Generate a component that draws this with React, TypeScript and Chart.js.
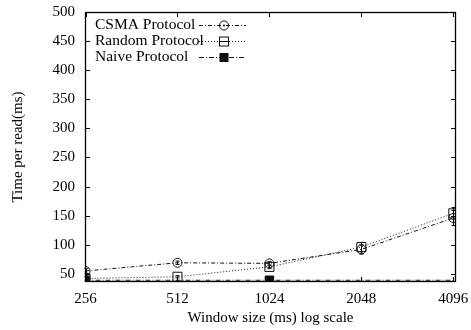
import React, { useEffect, useRef } from "react";
import { Chart, registerables } from "chart.js";

Chart.register(...registerables);

// Window sizes (ms), plotted on a log2 axis
const windowSizes = [256, 512, 1024, 2048, 4096];
const yTickValues = [50, 100, 150, 200, 250, 300, 350, 400, 450, 500];

// Mean time per read (ms) and error half-widths
const csmaTimes = [55, 69, 68, 92, 146];
const csmaErrors = [4, 3, 3, 8, 13];
const randomTimes = [42, 45, 62, 96, 154];
const randomErrors = [3, 2, 3, 8, 10];
const naiveTimes = [39, 39, 39, 39, 39];

const SERIF = "'Liberation Serif', 'Times New Roman', serif";
const INK = "#111";

const seriesNames = ["CSMA Protocol", "Random Protocol", "Naive Protocol"];
const seriesDash = [[4, 2, 1, 2], [1, 2], [5, 2, 1, 2]];

function drawMarker(ctx: CanvasRenderingContext2D, kind: number, x: number, y: number) {
  ctx.save();
  ctx.strokeStyle = INK;
  ctx.fillStyle = INK;
  ctx.lineWidth = 1;
  ctx.setLineDash([]);
  if (kind === 0) {
    ctx.beginPath();
    ctx.arc(x, y, 4.5, 0, Math.PI * 2);
    ctx.stroke();
    ctx.beginPath();
    ctx.arc(x, y, 1, 0, Math.PI * 2);
    ctx.fill();
  } else if (kind === 1) {
    ctx.strokeRect(x - 4.5, y - 4.5, 9, 9);
    ctx.beginPath();
    ctx.moveTo(x - 4.5, y);
    ctx.lineTo(x + 4.5, y);
    ctx.stroke();
  } else {
    ctx.fillRect(x - 4.5, y - 4.5, 9, 9);
  }
  ctx.restore();
}

const framePlugin = {
  id: "frame",
  afterDatasetsDraw(chart: any) {
    const { ctx, chartArea } = chart;
    const xs = chart.scales.x;
    const ys = chart.scales.y;
    const { left, right, top, bottom } = chartArea;

    ctx.save();
    // error bars
    const errorSets = [
      { values: csmaTimes, errors: csmaErrors },
      { values: randomTimes, errors: randomErrors },
    ];
    ctx.strokeStyle = INK;
    ctx.lineWidth = 1;
    ctx.setLineDash([]);
    errorSets.forEach((s) => {
      s.values.forEach((v, i) => {
        const px = Math.round(xs.getPixelForValue(windowSizes[i])) + 0.5;
        const y1 = ys.getPixelForValue(v + s.errors[i]);
        const y2 = ys.getPixelForValue(v - s.errors[i]);
        ctx.beginPath();
        ctx.moveTo(px, y1);
        ctx.lineTo(px, y2);
        ctx.moveTo(px - 2, y1);
        ctx.lineTo(px + 2, y1);
        ctx.moveTo(px - 2, y2);
        ctx.lineTo(px + 2, y2);
        ctx.stroke();
      });
    });

    // border
    ctx.lineWidth = 1.3;
    ctx.strokeStyle = "#000";
    ctx.strokeRect(left + 0.5, top + 0.5, right - left - 1, bottom - top - 1);

    // inward ticks on all four sides
    ctx.lineWidth = 1;
    const tl = 5;
    ctx.beginPath();
    windowSizes.forEach((w) => {
      const px = Math.round(xs.getPixelForValue(w)) + 0.5;
      ctx.moveTo(px, bottom);
      ctx.lineTo(px, bottom - tl);
      ctx.moveTo(px, top);
      ctx.lineTo(px, top + tl);
    });
    yTickValues.forEach((v) => {
      const py = Math.round(ys.getPixelForValue(v)) + 0.5;
      ctx.moveTo(left, py);
      ctx.lineTo(left + tl, py);
      ctx.moveTo(right, py);
      ctx.lineTo(right - tl, py);
    });
    ctx.stroke();

    // legend (left-justified labels, line sample with marker)
    ctx.font = `15.5px ${SERIF}`;
    ctx.fillStyle = "#000";
    ctx.textAlign = "left";
    ctx.textBaseline = "middle";
    seriesNames.forEach((name, i) => {
      const ly = 25 + i * 16;
      ctx.fillText(name, 95, ly);
      ctx.save();
      ctx.strokeStyle = INK;
      ctx.lineWidth = 1;
      ctx.setLineDash(seriesDash[i]);
      ctx.beginPath();
      ctx.moveTo(199, ly + 0.5);
      ctx.lineTo(246, ly + 0.5);
      ctx.stroke();
      ctx.restore();
      drawMarker(ctx, i, 224, ly + 0.5);
    });

    // axis titles
    ctx.font = `15px ${SERIF}`;
    ctx.textAlign = "center";
    ctx.textBaseline = "middle";
    ctx.fillText("Window size (ms) log scale", (left + right) / 2, 318);
    ctx.save();
    ctx.translate(18, 147);
    ctx.rotate(-Math.PI / 2);
    ctx.fillText("Time per read(ms)", 0, 0);
    ctx.restore();
    ctx.restore();
  },
};

export default function App() {
  const canvasRef = useRef<HTMLCanvasElement | null>(null);

  useEffect(() => {
    document.body.style.margin = "0";
    const canvas = canvasRef.current;
    if (!canvas) return;

    const toPoints = (arr: number[]) => arr.map((v, i) => ({ x: windowSizes[i], y: v }));

    const chart = new Chart(canvas, {
      type: "line",
      data: {
        datasets: [
          {
            label: seriesNames[0],
            data: toPoints(csmaTimes),
            borderColor: INK,
            borderWidth: 1,
            borderDash: seriesDash[0],
            pointStyle: "circle",
            pointRadius: 4.5,
            pointBorderWidth: 1,
            pointBorderColor: INK,
            pointBackgroundColor: "rgba(0,0,0,0)",
            tension: 0,
          },
          {
            label: seriesNames[1],
            data: toPoints(randomTimes),
            borderColor: INK,
            borderWidth: 1,
            borderDash: seriesDash[1],
            pointStyle: "rect",
            pointRadius: 6.4,
            pointBorderWidth: 1,
            pointBorderColor: INK,
            pointBackgroundColor: "rgba(0,0,0,0)",
            tension: 0,
          },
          {
            label: seriesNames[2],
            data: toPoints(naiveTimes),
            borderColor: INK,
            borderWidth: 1,
            borderDash: seriesDash[2],
            pointStyle: "rect",
            pointRadius: [6, 0, 6, 0, 0],
            pointBorderWidth: 1,
            pointBorderColor: INK,
            pointBackgroundColor: INK,
            tension: 0,
          },
        ],
      },
      options: {
        animation: false,
        responsive: true,
        maintainAspectRatio: false,
        layout: { padding: { top: 12, right: 15, left: 0, bottom: 0 } },
        plugins: { legend: { display: false }, tooltip: { enabled: false } },
        scales: {
          x: {
            type: "logarithmic",
            bounds: "data",
            min: 255,
            max: 4180,
            grid: { display: false, drawTicks: false },
            border: { display: false },
            ticks: {
              color: "#000",
              font: { family: SERIF, size: 15 },
              padding: 8,
              autoSkip: false,
              maxRotation: 0,
              callback: (v: any) => String(v),
            },
            afterBuildTicks: (scale: any) => {
              scale.ticks = windowSizes.map((v) => ({ value: v }));
            },
            afterFit: (scale: any) => {
              scale.height = 48;
              scale.paddingLeft = 0;
              scale.paddingRight = 0;
            },
          },
          y: {
            type: "linear",
            min: 36,
            max: 500,
            grid: { display: false, drawTicks: false },
            border: { display: false },
            ticks: {
              color: "#000",
              font: { family: SERIF, size: 15 },
              padding: 10,
              autoSkip: false,
              callback: (v: any) => String(v),
            },
            afterBuildTicks: (scale: any) => {
              scale.ticks = yTickValues.map((v) => ({ value: v }));
            },
            afterFit: (scale: any) => {
              scale.width = 85;
              scale.paddingTop = 0;
              scale.paddingBottom = 0;
            },
          },
        },
      },
      plugins: [framePlugin],
    });

    return () => chart.destroy();
  }, []);

  return (
    <div style={{ width: 471, height: 330, position: "relative", background: "#fff" }}>
      <canvas ref={canvasRef} />
    </div>
  );
}
